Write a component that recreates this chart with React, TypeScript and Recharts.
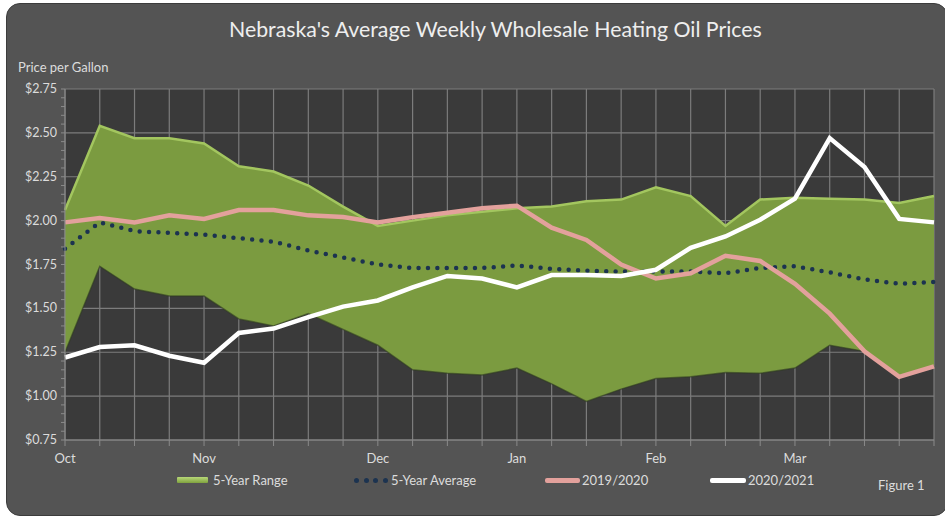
import React from "react";
import {
  ComposedChart,
  Area,
  Line,
  XAxis,
  YAxis,
  CartesianGrid
} from "recharts";

// weekly points, Oct -> end of Mar
const weekLabels = ["Oct", "", "", "", "Nov", "", "", "", "", "Dec", "", "", "", "Jan", "", "", "", "Feb", "", "", "", "Mar", "", "", "", ""];

const rangeLow = [1.25, 1.74, 1.61, 1.57, 1.57, 1.44, 1.40, 1.47, 1.38, 1.29, 1.15, 1.13, 1.12, 1.16, 1.07, 0.97, 1.04, 1.10, 1.11, 1.135, 1.13, 1.16, 1.29, 1.255, 1.11, 1.17];
const rangeHigh = [2.06, 2.54, 2.47, 2.47, 2.44, 2.31, 2.28, 2.20, 2.08, 1.97, 2.00, 2.03, 2.05, 2.07, 2.08, 2.11, 2.12, 2.19, 2.14, 1.97, 2.12, 2.13, 2.125, 2.12, 2.10, 2.14];
const fiveYearAvg = [1.84, 1.99, 1.94, 1.93, 1.92, 1.90, 1.88, 1.83, 1.79, 1.75, 1.73, 1.73, 1.73, 1.745, 1.725, 1.715, 1.71, 1.71, 1.71, 1.70, 1.73, 1.74, 1.705, 1.665, 1.64, 1.65];
const season1920 = [1.99, 2.015, 1.99, 2.03, 2.01, 2.06, 2.06, 2.03, 2.02, 1.99, 2.02, 2.045, 2.07, 2.085, 1.96, 1.89, 1.75, 1.67, 1.70, 1.80, 1.77, 1.64, 1.47, 1.255, 1.11, 1.17];
const season2021 = [1.22, 1.28, 1.29, 1.23, 1.19, 1.36, 1.385, 1.45, 1.51, 1.545, 1.62, 1.685, 1.67, 1.62, 1.69, 1.69, 1.685, 1.72, 1.845, 1.91, 2.005, 2.125, 2.47, 2.305, 2.01, 1.99];

const yTicks = [0.75, 1.0, 1.25, 1.5, 1.75, 2.0, 2.25, 2.5, 2.75];

const data = weekLabels.map((_, i) => ({
  wk: i,
  range: [rangeLow[i], rangeHigh[i]],
  low: rangeLow[i],
  high: rangeHigh[i],
  avg: fiveYearAvg[i],
  s1920: season1920[i],
  s2021: season2021[i]
}));

// minor ticks every 5 cents
const minorTicks: number[] = [];
for (let k = 15; k <= 55; k++) minorTicks.push(k / 20);

const FONT = "Lato, 'Open Sans', sans-serif";
const TXT = "#dcdcdc";

const YTick = (props: any) => {
  const { x, y, payload } = props;
  const isMajor = yTicks.some((t) => Math.abs(t - payload.value) < 0.001);
  if (!isMajor) return <g />;
  return (
    <text x={x - 2} y={y} dy={4} textAnchor="end" fill={TXT} fontSize={12.5} fontFamily={FONT}>
      {"$" + payload.value.toFixed(2)}
    </text>
  );
};

export default function App() {
  return (
    <div style={{ position: "absolute", left: 0, top: 0, width: 945, height: 518, background: "#fff", overflow: "hidden", fontFamily: FONT }}>
      <div
        style={{
          position: "absolute",
          left: 6,
          top: 3,
          width: 940,
          height: 511,
          background: "#545454",
          borderRadius: 14,
          border: "1px solid #3c3c3c"
        }}
      />
      <div style={{ position: "absolute", left: 229, top: 16, whiteSpace: "nowrap", color: "#eeeeee", fontSize: 21.3 }}>
        Nebraska's Average Weekly Wholesale Heating Oil Prices
      </div>
      <div style={{ position: "absolute", left: 18, top: 59, color: TXT, fontSize: 13 }}>Price per Gallon</div>

      <div style={{ position: "absolute", left: 0, top: 0 }}>
        <ComposedChart width={945} height={518} data={data} margin={{ top: 89, right: 11, bottom: 48, left: 0 }}>
          <CartesianGrid fill="#3a3a3a" stroke="#7c7c7c" strokeWidth={1.2} horizontalValues={yTicks} />
          <XAxis
            dataKey="wk"
            type="category"
            interval={0}
            tickFormatter={(i: number) => weekLabels[i]}
            tick={{ fill: TXT, fontSize: 13, fontFamily: FONT }}
            tickSize={6}
            tickMargin={8}
            axisLine={{ stroke: "#8a8a8a" }}
            tickLine={{ stroke: "#8a8a8a" }}
            height={30}
          />
          <YAxis
            domain={[0.75, 2.75]}
            ticks={minorTicks}
            interval={0}
            width={65}
            tick={<YTick />}
            tickSize={4}
            axisLine={{ stroke: "#8a8a8a" }}
            tickLine={{ stroke: "#8a8a8a" }}
          />
          <Area dataKey="range" type="linear" fill="#7b9b40" fillOpacity={1} stroke="none" isAnimationActive={false} />
          <Line dataKey="low" type="linear" stroke="#2f3a22" strokeOpacity={0.6} strokeWidth={1.5} dot={false} isAnimationActive={false} />
          <Line dataKey="high" type="linear" stroke="#a3c65f" strokeWidth={2.5} dot={false} isAnimationActive={false} />
          <Line dataKey="avg" type="linear" stroke="#1c3350" strokeWidth={4.5} strokeDasharray="0 9.4" strokeLinecap="round" dot={false} isAnimationActive={false} />
          <Line dataKey="s1920" type="linear" stroke="#e3a19c" strokeWidth={4.5} dot={false} isAnimationActive={false} />
          <Line dataKey="s2021" type="linear" stroke="#ffffff" strokeWidth={4.5} dot={false} isAnimationActive={false} />
        </ComposedChart>
      </div>

      {/* legend */}
      <div style={{ position: "absolute", left: 177, top: 477, width: 31, height: 6, background: "linear-gradient(#b8d878, #7fa23e)", borderRadius: 1 }} />
      <div style={{ position: "absolute", left: 213, top: 472, color: TXT, fontSize: 13 }}>5-Year Range</div>
      {[0, 1, 2, 3].map((k) => (
        <div key={k} style={{ position: "absolute", left: 354 + k * 9.5, top: 478, width: 5, height: 5, borderRadius: 3, background: "#1c3350" }} />
      ))}
      <div style={{ position: "absolute", left: 391, top: 472, color: TXT, fontSize: 13 }}>5-Year Average</div>
      <div style={{ position: "absolute", left: 545, top: 478, width: 35, height: 5, background: "#e3a19c", borderRadius: 2 }} />
      <div style={{ position: "absolute", left: 582, top: 472, color: TXT, fontSize: 13 }}>2019/2020</div>
      <div style={{ position: "absolute", left: 710, top: 478, width: 36, height: 5, background: "#ffffff", borderRadius: 2 }} />
      <div style={{ position: "absolute", left: 748, top: 472, color: TXT, fontSize: 13 }}>2020/2021</div>
      <div style={{ position: "absolute", left: 878, top: 477, color: TXT, fontSize: 13 }}>Figure 1</div>
    </div>
  );
}
